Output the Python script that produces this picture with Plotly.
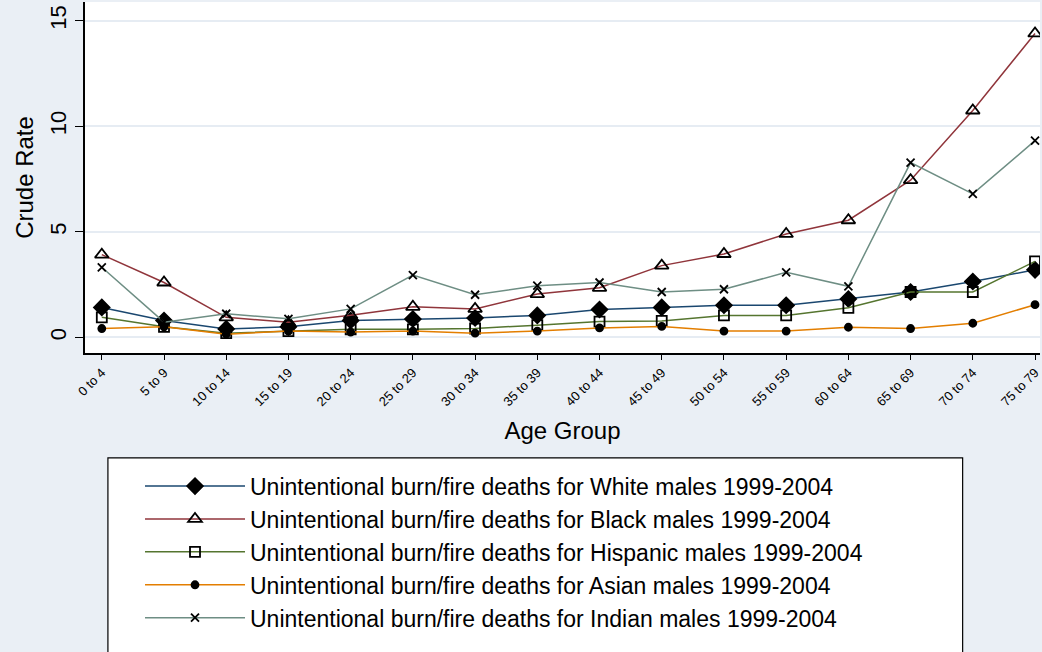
import plotly.graph_objects as go

age_groups = ["0 to 4", "5 to 9", "10 to 14", "15 to 19", "20 to 24", "25 to 29",
              "30 to 34", "35 to 39", "40 to 44", "45 to 49", "50 to 54", "55 to 59",
              "60 to 64", "65 to 69", "70 to 74", "75 to 79"]

white = [1.42, 0.8, 0.4, 0.5, 0.8, 0.87, 0.92, 1.04, 1.32, 1.42, 1.52, 1.52, 1.82, 2.15, 2.65, 3.2]
black = [3.92, 2.6, 0.95, 0.72, 1.05, 1.45, 1.35, 2.05, 2.35, 3.4, 3.95, 4.9, 5.55, 7.45, 10.75, 14.4]
hispanic = [0.95, 0.5, 0.2, 0.3, 0.38, 0.38, 0.42, 0.58, 0.75, 0.78, 1.04, 1.04, 1.4, 2.15, 2.15, 3.6]
asian = [0.42, 0.5, 0.15, 0.3, 0.25, 0.3, 0.2, 0.3, 0.45, 0.52, 0.3, 0.3, 0.48, 0.42, 0.67, 1.55]
indian = [3.32, 0.72, 1.12, 0.88, 1.35, 2.95, 2.02, 2.45, 2.6, 2.15, 2.28, 3.08, 2.42, 8.28, 6.8, 9.32]

tick_vals = [0, 5, 10, 15]

series = [
    ("Unintentional burn/fire deaths for White males 1999-2004", white, "#1a476f", "diamond", 12),
    ("Unintentional burn/fire deaths for Black males 1999-2004", black, "#90353b", "triangle-up-open", 12),
    ("Unintentional burn/fire deaths for Hispanic males 1999-2004", hispanic, "#55752f", "square-open", 10),
    ("Unintentional burn/fire deaths for Asian males 1999-2004", asian, "#e37e00", "circle", 7),
    ("Unintentional burn/fire deaths for Indian males 1999-2004", indian, "#6e8e84", "x-thin-open", 8),
]

fig = go.Figure()
for name, vals, color, symbol, size in series:
    fig.add_trace(go.Scatter(
        x=list(range(len(age_groups))), y=vals, name=name, mode="lines+markers",
        line=dict(color=color, width=1.5),
        marker=dict(symbol=symbol, size=size, color="black",
                    line=dict(color="black", width=1.8)),
    ))

font = "Liberation Sans, Arial, sans-serif"
fig.update_layout(
    width=1042, height=652,
    margin=dict(l=85, r=2, t=2, b=299),
    paper_bgcolor="#eaeff5", plot_bgcolor="white",
    font=dict(family=font, color="black", size=22),
    showlegend=True,
    legend=dict(x=0.0576, y=-0.318, xanchor="left", yanchor="top",
                bgcolor="rgba(0,0,0,0)", borderwidth=0, itemwidth=100,
                font=dict(size=23), itemclick=False),
    shapes=[dict(type="rect", xref="paper", yref="paper",
                 x0=0.024, x1=0.919, y0=-0.9, y1=-0.299,
                 line=dict(color="black", width=1.2), fillcolor="white", layer="below")],
)
fig.update_xaxes(
    tickmode="array", tickvals=list(range(len(age_groups))), ticktext=age_groups,
    tickangle=-45, tickfont=dict(size=13), range=[-0.27, 15.08], automargin=False,
    showline=True, linecolor="black", linewidth=2, ticks="outside", ticklen=5,
    tickcolor="black", showgrid=False, zeroline=False,
    title=dict(text="Age Group", font=dict(size=24), standoff=14),
)
fig.update_yaxes(
    tickvals=tick_vals, range=[-0.74, 15.89], tickangle=-90, automargin=False,
    showline=True, linecolor="black", linewidth=2, ticks="outside", ticklen=8,
    tickcolor="black", gridcolor="#e6ecf3", gridwidth=1.5, zeroline=False,
    ticklabelstandoff=0,
    title=dict(text="Crude Rate", font=dict(size=24), standoff=6),
)

fig.write_html("out.html", config={"displayModeBar": False},
               post_script="document.body.style.margin='0';")
